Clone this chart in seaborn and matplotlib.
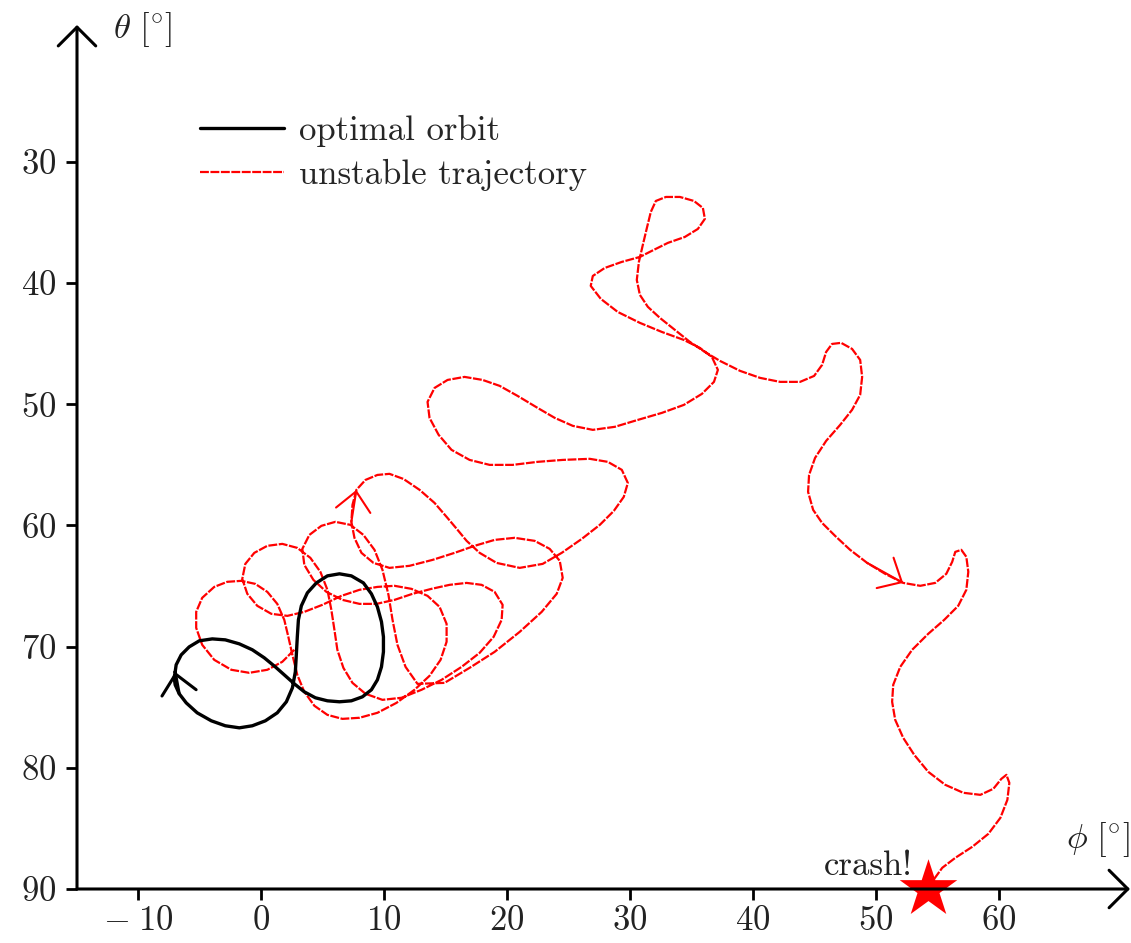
import numpy as np
import pandas as pd
import matplotlib
matplotlib.use("Agg")
import matplotlib.pyplot as plt
import seaborn as sns
from matplotlib.ticker import FuncFormatter

# ---------------- data (phi, theta in degrees) ----------------
optimal_phi = [-7.01, -6.93, -6.52, -5.87, -5.05, -3.99, -2.93, -1.79, -0.73, 0.24,
               1.14, 1.96, 2.69, 3.50, 4.40, 5.38, 6.36, 7.33, 8.23, 8.96,
               9.45, 9.78, 9.94, 9.94, 9.78, 9.45, 8.96, 8.31, 7.33, 6.36,
               5.38, 4.48, 3.75, 3.26, 3.02, 2.93, 2.85, 2.77, 2.53, 2.04,
               1.30, 0.33, -0.73, -1.79, -2.93, -4.07, -5.22, -6.11, -6.68, -7.01,
               -7.09, -7.01]
optimal_theta = [72.08, 71.50, 70.68, 70.02, 69.52, 69.36, 69.44, 69.77, 70.26, 70.92,
                 71.67, 72.41, 73.07, 73.73, 74.22, 74.47, 74.55, 74.47, 74.14, 73.56,
                 72.74, 71.67, 70.43, 69.19, 67.95, 66.72, 65.64, 64.74, 64.16, 63.99,
                 64.16, 64.74, 65.56, 66.63, 67.79, 69.19, 70.68, 72.08, 73.40, 74.55,
                 75.46, 76.12, 76.53, 76.70, 76.53, 76.12, 75.46, 74.64, 73.89, 73.15,
                 72.57, 72.08]

unstable_phi = [
    2.69, 1.71, 0.49, -0.98, -2.44, -3.83, -4.81, -5.30, -5.30, -4.81,
    -3.83, -2.77, -1.63, -0.49, 0.49, 1.30, 1.87, 2.20, 2.53, 2.93,
    3.50, 4.32, 5.38, 6.60, 7.99, 9.45, 11.00, 12.47, 13.69, 14.59,
    15.08, 15.08, 14.51, 13.53, 12.22, 10.84, 9.45, 7.99, 6.52, 4.97,
    3.50, 2.12, 0.81, -0.33, -1.14, -1.55, -1.30, -0.57, 0.49, 1.71,
    2.93, 3.99, 4.81, 5.38, 5.70, 5.95, 6.19, 6.68, 7.42, 8.48,
    9.86, 11.41, 13.04, 14.67, 16.30, 17.77, 18.91, 19.56, 19.64, 18.99,
    17.93, 16.71, 15.32, 13.85, 12.31, 10.84, 9.37, 7.99, 6.60, 5.30,
    4.24, 3.50, 3.34, 3.91, 4.89, 6.03, 7.25, 8.31, 9.21, 9.86,
    10.35, 10.68, 11.08, 11.74, 12.71, 14.91, 16.95, 18.99, 21.03, 22.82,
    24.04, 24.53, 24.29, 23.47, 22.25, 20.62, 18.99, 17.36, 15.73, 13.94,
    12.06, 10.43, 9.13, 8.15, 7.58, 7.33, 7.42, 7.74, 8.48, 9.45,
    10.43, 11.57, 12.88, 14.10, 15.08, 15.97, 16.71, 17.77, 19.15, 21.03,
    22.90, 24.45, 26.08, 27.55, 28.69, 29.50, 29.83, 29.34, 28.20, 26.73,
    24.53, 22.49, 20.46, 18.58, 16.95, 15.48, 14.43, 13.69, 13.53, 14.10,
    15.16, 16.54, 18.01, 19.40, 20.86, 22.49, 23.88, 25.35, 26.98, 28.77,
    30.64, 32.60, 34.39, 35.86, 36.84, 37.16, 36.67, 35.70, 34.39, 32.60,
    30.81, 29.01, 27.63, 26.81, 26.98, 27.95, 29.34, 30.81, 31.78, 33.09,
    34.47, 35.53, 36.10, 35.94, 35.21, 34.07, 32.93, 32.11, 31.70, 31.38,
    31.05, 30.73, 30.56, 30.81, 31.46, 32.44, 33.66, 34.88, 36.10, 37.33,
    38.96, 40.59, 42.22, 43.85, 44.99, 45.64, 45.97, 46.45, 47.19, 48.08,
    48.74, 48.90, 48.74, 48.08, 47.11, 45.97, 45.07, 44.58, 44.50, 44.91,
    45.64, 46.70, 47.92, 49.31, 50.77, 52.24, 53.63, 54.85, 55.75, 56.23,
    56.48, 56.97, 57.38, 57.54, 57.38, 56.72, 55.58, 54.28, 52.97, 52.00,
    51.43, 51.34, 51.59, 52.24, 53.14, 54.28, 55.66, 57.13, 58.52, 59.58,
    60.23, 60.64, 60.88, 60.72, 60.15, 59.17, 57.86, 56.48, 55.42, 54.77,
    54.28]
unstable_theta = [
    70.26, 71.25, 71.91, 72.16, 71.91, 71.09, 69.85, 68.45, 67.13, 65.97,
    65.07, 64.65, 64.57, 64.82, 65.48, 66.47, 67.79, 69.19, 70.68, 72.33,
    73.73, 74.88, 75.63, 75.96, 75.87, 75.46, 74.64, 73.56, 72.41, 71.09,
    69.60, 68.12, 66.72, 65.81, 65.23, 64.98, 65.07, 65.31, 65.81, 66.55,
    67.13, 67.46, 67.29, 66.63, 65.64, 64.41, 63.17, 62.26, 61.68, 61.52,
    61.85, 62.67, 63.83, 65.31, 66.96, 68.61, 70.26, 71.75, 72.99, 73.89,
    74.39, 74.22, 73.56, 72.74, 71.67, 70.51, 69.19, 67.79, 66.55, 65.48,
    64.90, 64.74, 64.90, 65.23, 65.64, 66.14, 66.47, 66.47, 66.14, 65.48,
    64.49, 63.25, 61.93, 60.78, 60.03, 59.70, 59.95, 60.78, 62.01, 63.66,
    65.73, 67.79, 69.85, 71.67, 73.07, 72.99, 71.75, 70.43, 68.78, 67.13,
    65.64, 64.32, 62.92, 61.93, 61.27, 61.02, 61.19, 61.68, 62.26, 62.84,
    63.33, 63.50, 63.09, 62.26, 61.02, 59.70, 58.30, 57.06, 56.24, 55.83,
    55.74, 56.16, 57.06, 58.14, 59.29, 60.36, 61.27, 62.26, 63.09, 63.50,
    63.17, 62.26, 61.11, 59.95, 58.80, 57.64, 56.49, 55.41, 54.75, 54.50,
    54.59, 54.75, 55.00, 55.00, 54.59, 53.76, 52.52, 51.12, 49.80, 48.65,
    47.99, 47.74, 47.99, 48.48, 49.31, 50.30, 51.12, 51.78, 52.11, 51.86,
    51.29, 50.71, 50.05, 49.14, 48.15, 47.16, 46.09, 45.35, 44.69, 44.03,
    43.28, 42.38, 41.30, 40.23, 39.41, 38.75, 38.25, 37.84, 37.34, 36.68,
    36.19, 35.53, 34.70, 33.80, 33.22, 32.89, 32.89, 33.22, 34.13, 35.45,
    36.85, 38.25, 39.74, 40.97, 41.96, 42.87, 43.86, 44.85, 45.68, 46.42,
    47.24, 47.82, 48.15, 48.15, 47.66, 46.75, 45.68, 45.02, 44.93, 45.43,
    46.34, 47.74, 49.22, 50.46, 51.70, 53.02, 54.42, 55.83, 57.23, 58.71,
    59.79, 60.86, 62.01, 63.09, 63.99, 64.74, 64.98, 64.74, 63.99, 63.00,
    62.18, 62.01, 62.59, 63.83, 65.31, 66.63, 67.79, 68.94, 70.26, 71.67,
    73.15, 74.55, 76.04, 77.52, 78.93, 80.33, 81.40, 82.06, 82.23, 81.73,
    80.91, 80.58, 81.24, 82.64, 84.13, 85.45, 86.52, 87.43, 88.25, 89.16,
    90.00]

# points of the trajectory where direction arrows sit
unstable_arrow_points = [(7.74, 57.06), (52.24, 64.74)]

crash_phi = [54.3]
crash_theta = [90.0]

x_ticks = [-10, 0, 10, 20, 30, 40, 50, 60]
y_ticks = [30, 40, 50, 60, 70, 80, 90]
legend_labels = ["optimal orbit", "unstable trajectory"]
crash_label = "crash!"
x_label = r"$\phi\ [^{\circ}]$"
y_label = r"$\theta\ [^{\circ}]$"

# ---------------- style ----------------
sns.set_theme(style="white")
plt.rcParams["font.family"] = ["cmr10", "DejaVu Serif"]
plt.rcParams["mathtext.fontset"] = "cm"
plt.rcParams["axes.unicode_minus"] = False
plt.rcParams["axes.formatter.use_mathtext"] = True

W, H = 1131, 943
fig = plt.figure(figsize=(W / 100, H / 100), dpi=100)
ax = fig.add_axes([77 / W, 1 - 889 / H, (1130 - 77) / W, (889 - 25) / H])

opt_df = pd.DataFrame({"phi": optimal_phi, "theta": optimal_theta})
uns_df = pd.DataFrame({"phi": unstable_phi, "theta": unstable_theta})

sns.lineplot(data=opt_df, x="phi", y="theta", sort=False, estimator=None,
             color="black", lw=2.4, ax=ax, label=legend_labels[0], zorder=3,
             solid_joinstyle="round", solid_capstyle="round")
sns.lineplot(data=uns_df, x="phi", y="theta", sort=False, estimator=None,
             color="red", lw=1.6, linestyle=(0, (4.0, 0.7)), ax=ax,
             label=legend_labels[1], zorder=2, dash_joinstyle="round")

sns.scatterplot(x=crash_phi, y=crash_theta, marker="*", s=1900, color="red",
                edgecolor="red", linewidth=0, ax=ax, zorder=6, clip_on=False,
                legend=False)

# direction arrows on the curves
def dir_arrow(xs, ys, i_from, i_to, color, lw):
    ax.annotate("", xy=(xs[i_to], ys[i_to]), xytext=(xs[i_from], ys[i_from]),
                arrowprops=dict(arrowstyle="->,head_length=0.55,head_width=0.5",
                                color=color, lw=lw, shrinkA=0, shrinkB=0,
                                mutation_scale=25), zorder=4)

dir_arrow(optimal_phi, optimal_theta, len(optimal_phi) - 4, 0, "black", 2.2)
pairs = list(zip(unstable_phi, unstable_theta))
for p in unstable_arrow_points:
    i = pairs.index(p)
    dir_arrow(unstable_phi, unstable_theta, i - 2, i, "red", 1.5)

ax.text(53.0, 88.85, crash_label, ha="right", va="baseline", fontsize=25,
        color="#222222")

ax.set_xlim(-15.0, 70.7)
ax.set_ylim(90, 18.7)
ax.set_xticks(x_ticks)
ax.set_yticks(y_ticks)

def fmt(v, pos):
    v = int(round(v))
    if v < 0:
        return r"$-\;%d$" % abs(v)
    return r"$%d$" % v

ax.xaxis.set_major_formatter(FuncFormatter(fmt))
ax.yaxis.set_major_formatter(FuncFormatter(fmt))
ax.tick_params(axis="both", which="major", direction="out", length=8, width=2,
               labelsize=25, colors="black", labelcolor="#222222",
               bottom=True, left=True, top=False, right=False)
ax.tick_params(axis="x", pad=4)
ax.tick_params(axis="y", pad=7)
ax.set_xlabel("")
ax.set_ylabel("")

for s in ax.spines.values():
    s.set_visible(False)

# arrow-tipped axes
for tip in [(0, 1), (1, 0)]:
    ax.annotate("", xy=tip, xytext=(0, 0), xycoords="axes fraction",
                textcoords="axes fraction",
                arrowprops=dict(arrowstyle="->,head_length=0.45,head_width=0.45",
                                color="black", lw=2.2, shrinkA=0, shrinkB=0,
                                mutation_scale=30),
                annotation_clip=False, zorder=7)

ax.text(0.034, 0.995, y_label, transform=ax.transAxes, fontsize=25,
        va="center", ha="left", color="#222222")
ax.text(1.0, 0.057, x_label, transform=ax.transAxes, fontsize=25,
        va="center", ha="right", color="#222222")

ax.legend(loc="upper left", bbox_to_anchor=(0.117, 0.8957), frameon=False,
          fontsize=25, handlelength=2.4, handletextpad=0.45, borderpad=0,
          borderaxespad=0, labelspacing=0.33)

fig.savefig("out.png", dpi=100)
